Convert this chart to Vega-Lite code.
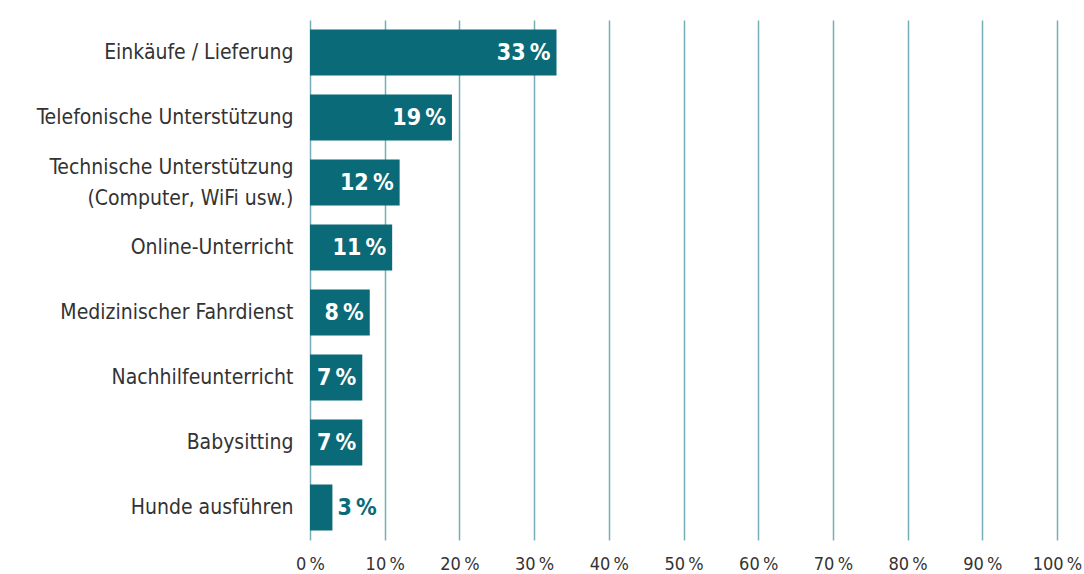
{
  "$schema": "https://vega.github.io/schema/vega-lite/v6.json",
  "width": 747,
  "height": 520,
  "autosize": "none",
  "padding": {"left": 310, "top": 20, "right": 27, "bottom": 34},
  "background": "white",
  "config": {
    "view": {"stroke": null},
    "font": "DejaVu Sans Condensed, Roboto, sans-serif"
  },
  "data": {
    "values": [
      {"k": "Einkäufe / Lieferung", "v": 33},
      {"k": "Telefonische Unterstützung", "v": 19},
      {"k": "Technische Unterstützung|(Computer, WiFi usw.)", "v": 12},
      {"k": "Online-Unterricht", "v": 11},
      {"k": "Medizinischer Fahrdienst", "v": 8},
      {"k": "Nachhilfeunterricht", "v": 7},
      {"k": "Babysitting", "v": 7},
      {"k": "Hunde ausführen", "v": 3}
    ]
  },
  "encoding": {
    "y": {
      "field": "k", "type": "nominal", "sort": null,
      "scale": {"paddingInner": 0.29, "paddingOuter": 0.145},
      "axis": {
        "title": null, "domain": false, "ticks": false,
        "labelFontSize": 21, "labelColor": "#333333", "labelPadding": 17,
        "labelLimit": 400, "labelLineHeight": 31,
        "labelOffset": {"condition": {"test": "indexof(datum.value, '|') >= 0", "value": -15}, "value": 0},
        "labelFont": "DejaVu Sans Condensed, Roboto, sans-serif",
        "labelExpr": "split(datum.label, '|')"
      }
    },
    "x": {
      "field": "v", "type": "quantitative",
      "scale": {"domain": [0, 100], "nice": false},
      "axis": {
        "title": null, "domain": false, "ticks": false, "labelFlush": false,
        "values": [0, 10, 20, 30, 40, 50, 60, 70, 80, 90, 100],
        "grid": true, "gridColor": "#75aeb8", "gridWidth": 1.5, "gridOpacity": 1,
        "labelFontSize": 18, "labelColor": "#333333", "labelPadding": 15,
        "labelFont": "DejaVu Sans Condensed, Roboto, sans-serif",
        "labelExpr": "datum.value + '\u2009%'"
      }
    }
  },
  "layer": [
    {"mark": {"type": "bar", "color": "#0a6a78"}},
    {
      "transform": [{"filter": "datum.v >= 5"}],
      "mark": {"type": "text", "align": "right", "dx": -6, "color": "white", "fontSize": 23, "fontWeight": "bold", "font": "DejaVu Sans Condensed, Roboto, sans-serif", "text": {"expr": "datum.v + '\u2009%'"}}
    },
    {
      "transform": [{"filter": "datum.v < 5"}],
      "mark": {"type": "text", "align": "left", "dx": 5, "color": "#0a6a78", "fontSize": 23, "fontWeight": "bold", "font": "DejaVu Sans Condensed, Roboto, sans-serif", "text": {"expr": "datum.v + '\u2009%'"}}
    }
  ]
}
